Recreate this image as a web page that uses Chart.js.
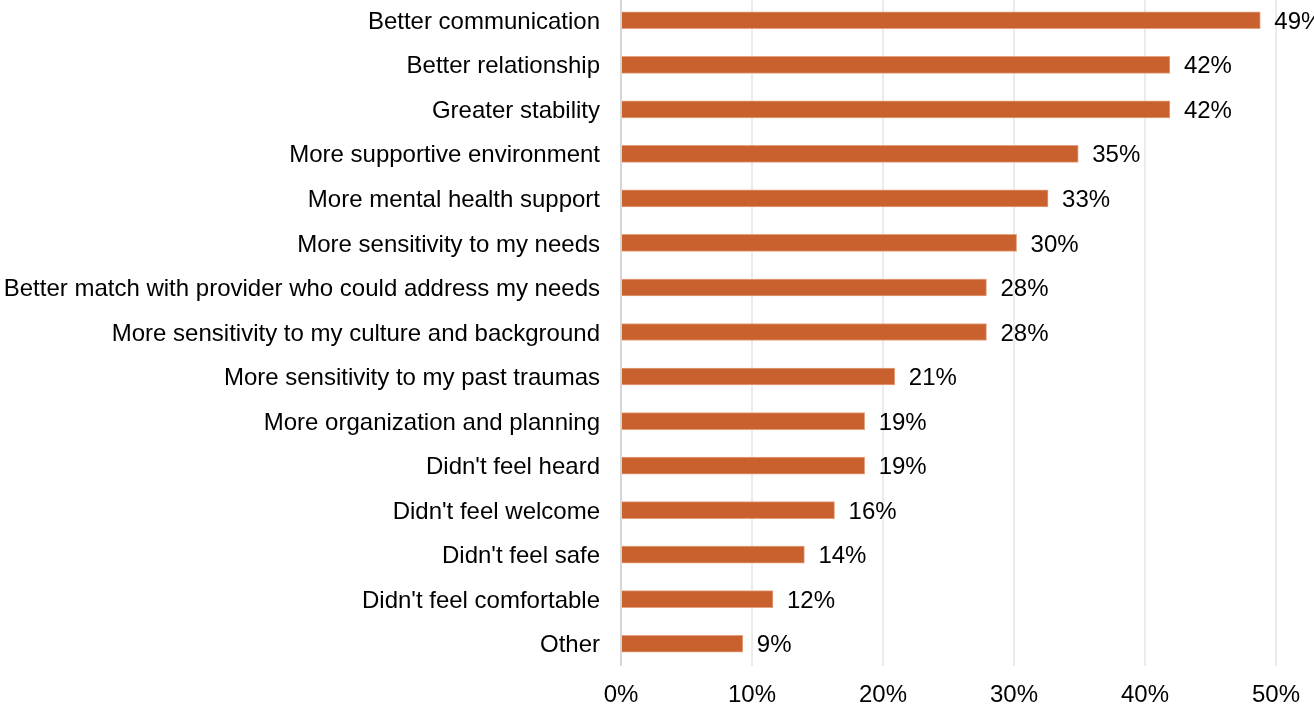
<!DOCTYPE html>
<html>
<head>
<meta charset="utf-8">
<script src="https://cdn.jsdelivr.net/npm/chart.js@4"></script>
<style>
  html, body { margin: 0; padding: 0; background: #fff; overflow: hidden; }
  #wrap { position: relative; width: 1314px; height: 709px; margin-top: -2px; }
</style>
</head>
<body>
<div id="wrap"><canvas id="reasonChart"></canvas></div>
<script>
// Categories (top to bottom)
const reasons = [
  "Better communication",
  "Better relationship",
  "Greater stability",
  "More supportive environment",
  "More mental health support",
  "More sensitivity to my needs",
  "Better match with provider who could address my needs",
  "More sensitivity to my culture and background",
  "More sensitivity to my past traumas",
  "More organization and planning",
  "Didn't feel heard",
  "Didn't feel welcome",
  "Didn't feel safe",
  "Didn't feel comfortable",
  "Other"
];

// Share of respondents (%)
const shares = [48.8, 41.9, 41.9, 34.9, 32.6, 30.2, 27.9, 27.9, 20.9, 18.6, 18.6, 16.3, 14.0, 11.6, 9.3];

// X axis ticks
const xTicks = [0, 10, 20, 30, 40, 50];

const FONT = "'Liberation Sans', Arial, sans-serif";
const FONT_SIZE = 24;

// Value labels at the end of each bar
const barLabels = {
  id: "barLabels",
  afterDatasetsDraw(chart) {
    const ctx = chart.ctx;
    const meta = chart.getDatasetMeta(0);
    ctx.save();
    ctx.font = FONT_SIZE + "px " + FONT;
    ctx.fillStyle = "#000";
    ctx.textBaseline = "middle";
    ctx.textAlign = "left";
    meta.data.forEach((bar, i) => {
      ctx.fillText(Math.round(shares[i]) + "%", bar.x + 14, bar.y + 2);
    });
    ctx.restore();
  }
};

const ctx = document.getElementById("reasonChart").getContext("2d");
new Chart(ctx, {
  type: "bar",
  data: {
    labels: reasons,
    datasets: [{
      data: shares,
      backgroundColor: "#C8612D",
      borderColor: "#E3A27F",
      borderWidth: 1,
      barThickness: 17
    }]
  },
  options: {
    indexAxis: "y",
    responsive: true,
    maintainAspectRatio: false,
    animation: false,
    layout: { padding: { left: 0, right: 38, top: 0, bottom: 0 } },
    plugins: {
      legend: { display: false },
      tooltip: { enabled: false }
    },
    scales: {
      x: {
        min: 0,
        max: 50,
        afterBuildTicks: axis => { axis.ticks = xTicks.map(v => ({ value: v })); },
        afterFit: axis => { axis.height = 41; axis.paddingLeft = 0; axis.paddingRight = 0; },
        grid: {
          color: c => c.tick && c.tick.value === 0 ? "#d6d6d6" : "#ebebeb",
          lineWidth: 2,
          drawTicks: false
        },
        border: { display: false },
        ticks: {
          padding: 15,
          color: "#000",
          font: { family: FONT, size: FONT_SIZE },
          callback: v => v + "%"
        }
      },
      y: {
        afterFit: axis => { axis.width = 621; axis.paddingTop = 0; axis.paddingBottom = 0; },
        grid: { display: false, drawTicks: false },
        border: { display: false },
        ticks: {
          padding: 21,
          labelOffset: 2,
          color: "#000",
          font: { family: FONT, size: FONT_SIZE }
        }
      }
    }
  },
  plugins: [barLabels]
});
</script>
</body>
</html>
